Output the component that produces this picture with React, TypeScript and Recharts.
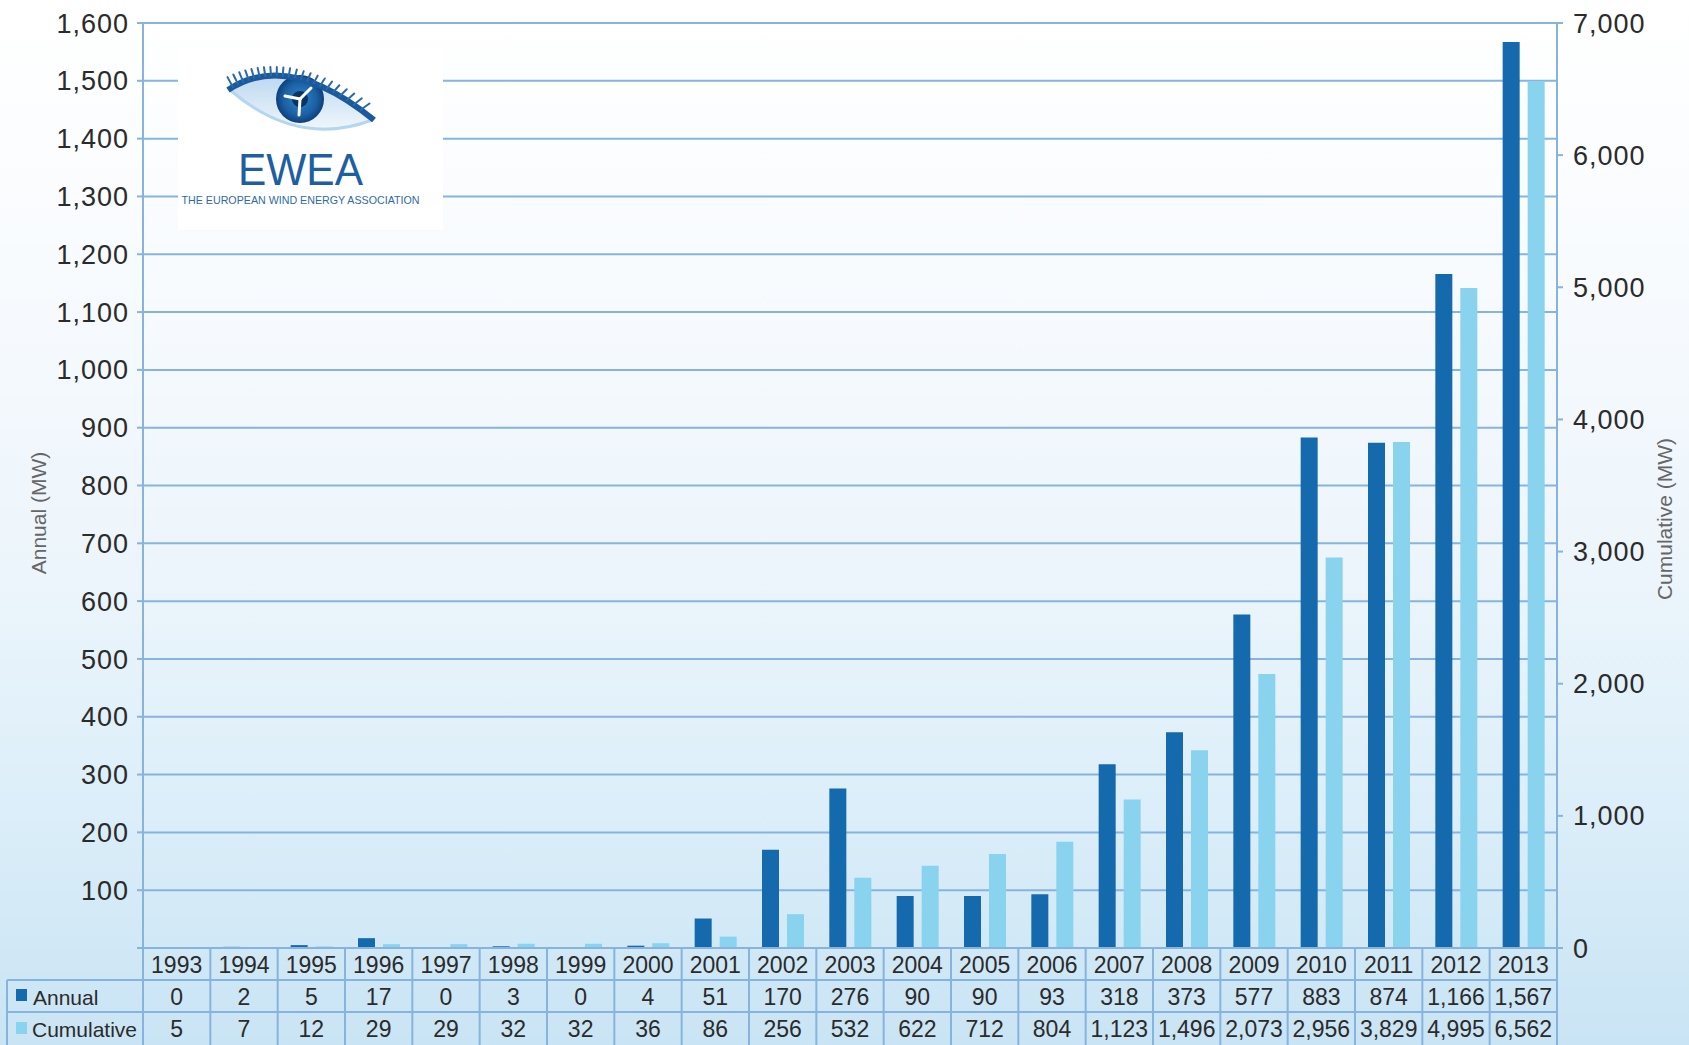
import React from "react";
import { BarChart, Bar, XAxis, YAxis, CartesianGrid, Label } from "recharts";

const years = [
  "1993", "1994", "1995", "1996", "1997", "1998", "1999", "2000", "2001", "2002", "2003",
  "2004", "2005", "2006", "2007", "2008", "2009", "2010", "2011", "2012", "2013",
];
const annual = [0, 2, 5, 17, 0, 3, 0, 4, 51, 170, 276, 90, 90, 93, 318, 373, 577, 883, 874, 1166, 1567];
const cumulative = [
  5, 7, 12, 29, 29, 32, 32, 36, 86, 256, 532, 622, 712, 804, 1123, 1496, 2073, 2956, 3829, 4995, 6562,
];
const leftTicks = [0, 100, 200, 300, 400, 500, 600, 700, 800, 900, 1000, 1100, 1200, 1300, 1400, 1500, 1600];
const rightTicks = [0, 1000, 2000, 3000, 4000, 5000, 6000, 7000];

const data = years.map((year, i) => ({ year, annual: annual[i], cumulative: cumulative[i] }));

const W = 1689;
const H = 1045;
const PLOT_LEFT = 143;
const PLOT_RIGHT = 1557;
const COL_W = (PLOT_RIGHT - PLOT_LEFT) / years.length;
const ROW_H = 32;

const DARK = "#1569ad";
const LIGHT = "#89d3ef";
const LINE = "#86b4de";
const TEXT = "#2b2b2b";
const FONT = '"Liberation Sans", Arial, sans-serif';

const fmt = (v: number) => v.toLocaleString("en-US");

// year row on the axis plus the two data rows below it
function TableTick(props: any) {
  const { x, y, payload } = props;
  const i = years.indexOf(String(payload.value));
  const l = x - COL_W / 2;
  const r = x + COL_W / 2;
  const cell = { textAnchor: "middle" as const, dominantBaseline: "central" as const, fontSize: 23 };
  return (
    <g fontFamily={FONT} fontSize={21} fill={TEXT}>
      <text x={x} y={y + 17} {...cell}>{payload.value}</text>
      <text x={x} y={y + ROW_H + 17} {...cell}>{fmt(annual[i])}</text>
      <text x={x} y={y + 2 * ROW_H + 17} {...cell}>{fmt(cumulative[i])}</text>
      <g stroke={LINE} strokeWidth={2}>
        <line x1={r} x2={r} y1={y} y2={H} />
        <line x1={l} x2={r} y1={y + ROW_H} y2={y + ROW_H} />
        <line x1={l} x2={r} y1={y + 2 * ROW_H} y2={y + 2 * ROW_H} />
        {i === 0 && <line x1={l} x2={l} y1={y} y2={H} />}
        {i === 0 && (
          <>
            <line x1={7} x2={l} y1={y + ROW_H} y2={y + ROW_H} />
            <line x1={7} x2={l} y1={y + 2 * ROW_H} y2={y + 2 * ROW_H} />
            <line x1={7} x2={7} y1={y + ROW_H} y2={H} />
          </>
        )}
      </g>
      {i === 0 && (
        <>
          <rect x={16} y={y + ROW_H + 9} width={11} height={12} fill={DARK} />
          <text x={33} y={y + ROW_H + 17} dominantBaseline="central">Annual</text>
          <rect x={16} y={y + 2 * ROW_H + 10} width={11} height={12} fill={LIGHT} />
          <text x={32} y={y + 2 * ROW_H + 17} dominantBaseline="central">Cumulative</text>
        </>
      )}
    </g>
  );
}

const axisTitle = (text: string, x: number, y: number) => () => (
  <text
    x={x}
    y={y}
    transform={`rotate(-90 ${x} ${y})`}
    textAnchor="middle"
    dominantBaseline="central"
    fontFamily={FONT}
    fontSize={21}
    fill="#666"
  >
    {text}
  </text>
);

// eyelash strokes along the upper lid curve
const lashes = Array.from({ length: 22 }, (_, k) => {
  const t = 0.04 + k * 0.042;
  const px = (1 - t) * (1 - t) * 50 + 2 * (1 - t) * t * 110 + t * t * 196;
  const py = (1 - t) * (1 - t) * 42 + 2 * (1 - t) * t * 2 + t * t * 72;
  return { x1: px, y1: py, x2: px - 6 + t * 16, y2: py - 10 + t * 4 };
});

function Logo() {
  return (
    <div style={{ position: "absolute", left: 178, top: 48, width: 265, height: 182, background: "#fff" }}>
      <svg width={265} height={182}>
        <defs>
          <radialGradient id="iris" cx="50%" cy="50%" r="50%">
            <stop offset="0%" stopColor="#2f86c9" />
            <stop offset="70%" stopColor="#1a5fa3" />
            <stop offset="100%" stopColor="#0e3f7a" />
          </radialGradient>
          <linearGradient id="white" x1="0" y1="0" x2="0" y2="1">
            <stop offset="0%" stopColor="#bcd8f0" />
            <stop offset="100%" stopColor="#eef5fb" />
          </linearGradient>
        </defs>
        <path d="M52,42 Q112,2 194,70 Q122,98 52,42 Z" fill="url(#white)" />
        <circle cx={122} cy={51} r={24} fill="url(#iris)" />
        <circle cx={122} cy={51} r={8} fill="#0b3466" />
        <g stroke="#fff" strokeWidth={3} strokeLinecap="round">
          <line x1={122} y1={51} x2={133} y2={40} />
          <line x1={122} y1={51} x2={121} y2={67} />
          <line x1={122} y1={51} x2={107} y2={48} />
        </g>
        <path d="M52,42 Q120,100 194,72" fill="none" stroke="#b5d6ef" strokeWidth={3} />
        <path d="M50,42 Q110,2 196,72" fill="none" stroke="#1a5a9c" strokeWidth={6} />
        <g stroke="#2a6aaa" strokeWidth={2} strokeLinecap="round">
          {lashes.map((s, k) => (
            <line key={k} {...s} />
          ))}
        </g>
        <text
          x={122.5}
          y={137}
          textAnchor="middle"
          fontFamily={FONT}
          fontSize={45}
          fill="#1d5fa0"
          textLength={125}
          lengthAdjust="spacingAndGlyphs"
        >
          EWEA
        </text>
        <text
          x={122.5}
          y={156}
          textAnchor="middle"
          fontFamily={FONT}
          fontSize={11}
          fill="#2f6aa8"
          textLength={238}
          lengthAdjust="spacingAndGlyphs"
        >
          THE EUROPEAN WIND ENERGY ASSOCIATION
        </text>
      </svg>
    </div>
  );
}

export default function App() {
  const tickStyle = { fill: TEXT, fontSize: 27, fontFamily: FONT, letterSpacing: 1 };
  const axisLine = { stroke: LINE, strokeWidth: 2 };
  return (
    <div
      style={{
        position: "fixed",
        left: 0,
        top: 0,
        width: W,
        height: H,
        background:
          "linear-gradient(to bottom, #ffffff 0%, #f8fbfe 25%, #ecf5fb 55%, #dbeef9 78%, #c9e4f4 100%)",
      }}
    >
      <BarChart
        width={W}
        height={H}
        data={data}
        margin={{ top: 23, right: 0, bottom: 0, left: 0 }}
        barGap={8}
      >
        <CartesianGrid yAxisId="left" vertical={false} stroke={LINE} strokeWidth={2} />
        <XAxis
          dataKey="year"
          height={97}
          interval={0}
          tickSize={0}
          tickMargin={0}
          tickLine={false}
          axisLine={axisLine}
          tick={<TableTick />}
        />
        <YAxis
          yAxisId="left"
          orientation="left"
          width={143}
          domain={[0, 1600]}
          ticks={leftTicks}
          interval={0}
          tickFormatter={(v: number) => (v === 0 ? "" : fmt(v))}
          tick={tickStyle}
          axisLine={axisLine}
          tickLine={axisLine}
          tickSize={6}
          tickMargin={8}
        >
          <Label content={axisTitle("Annual (MW)", 38, 513)} />
        </YAxis>
        <YAxis
          yAxisId="right"
          orientation="right"
          width={132}
          domain={[0, 7000]}
          ticks={rightTicks}
          interval={0}
          tickFormatter={(v: number) => fmt(v)}
          tick={tickStyle}
          axisLine={axisLine}
          tickLine={axisLine}
          tickSize={6}
          tickMargin={10}
        >
          <Label content={axisTitle("Cumulative (MW)", 1664, 519)} />
        </YAxis>
        <Bar yAxisId="left" dataKey="annual" fill={DARK} barSize={17} isAnimationActive={false} />
        <Bar yAxisId="right" dataKey="cumulative" fill={LIGHT} barSize={17} isAnimationActive={false} />
      </BarChart>
      <Logo />
    </div>
  );
}
